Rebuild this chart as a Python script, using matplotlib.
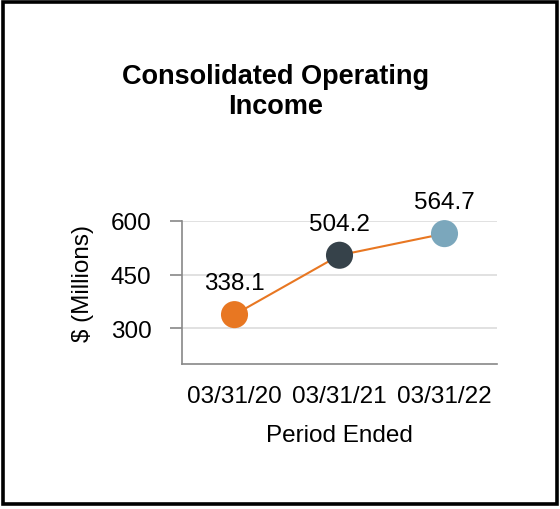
import numpy as np
import matplotlib.pyplot as plt
from matplotlib.patches import Rectangle

periods = ['03/31/20', '03/31/21', '03/31/22']
income = [338.1, 504.2, 564.7]
point_colors = ['#E87722', '#36424A', '#7BA7BC']
y_ticks = [300, 450, 600]

plt.rcParams['font.family'] = ['Liberation Sans', 'DejaVu Sans']

fig = plt.figure(figsize=(5.6, 5.1), dpi=100)
ax = fig.add_axes([182/560, 1-365/510, (497-182)/560, (365-222)/510])

x = np.arange(len(periods))
ax.plot(x, income, color='#E87722', lw=1.5, zorder=2, clip_on=False)
ax.scatter(x, income, s=19.5**2, c=point_colors, zorder=3, clip_on=False,
           linewidths=0)
for xi, v in zip(x, income):
    ax.annotate(f'{v:.1f}', (xi, v), xytext=(0, 22.5), textcoords='offset points',
                ha='center', va='center', fontsize=17.5, color='black')

ax.set_xlim(-0.5, 2.5)
ax.set_ylim(200, 600)
ax.set_yticks(y_ticks)
ax.set_xticks(x)
ax.set_xticklabels(periods)
ax.tick_params(axis='both', labelsize=17.5, colors='#888888', labelcolor='black')
ax.tick_params(axis='x', length=0, pad=15)
ax.tick_params(axis='y', length=9, width=1.2, pad=13)
ax.grid(axis='y', color='#dcdcdc', lw=1.2)
ax.set_axisbelow(True)
for s in ['top', 'right']:
    ax.spines[s].set_visible(False)
for s in ['left', 'bottom']:
    ax.spines[s].set_color('#888888')
    ax.spines[s].set_linewidth(1.2)

ax.set_xlabel('Period Ended', fontsize=17.5, labelpad=12)
ax.set_ylabel('$ (Millions)', fontsize=17.5)
ax.yaxis.set_label_coords((94-182)/315, (365-283)/143)

fig.text(276/560, 1-92/510, 'Consolidated Operating\nIncome', ha='center',
         va='center', fontsize=19.5, fontweight='bold', linespacing=1.25)

fig.patches.append(Rectangle((3/560, 5/510), 553.5/560, 502.5/510, transform=fig.transFigure,
                             fill=False, edgecolor='black', lw=2.6))

fig.savefig('out.png', dpi=100)
